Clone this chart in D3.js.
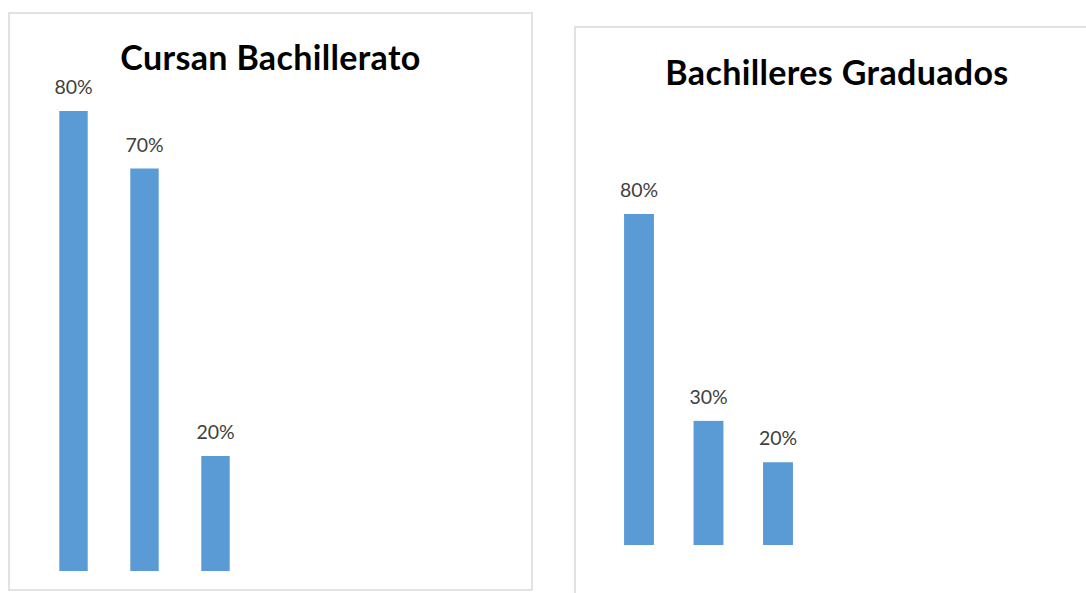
<!DOCTYPE html>
<html>
<head>
<meta charset="utf-8">
<script src="https://cdn.jsdelivr.net/npm/d3@7"></script>
<style>
  html, body { margin: 0; padding: 0; background: #ffffff; }
  svg { display: block; }
</style>
</head>
<body>
<svg id="chart" width="1086" height="593"></svg>
<script>
// Chart data
const categories = ["Grupo 1", "Grupo 2", "Grupo 3"];
const cursanValues = [80, 70, 20];
const graduadosValues = [80, 30, 20];
const titles = ["Cursan Bachillerato", "Bachilleres Graduados"];

const svg = d3.select("#chart");
const barColor = "#5b9bd5";
const labelColor = "#404040";
const fontFamily = "Lato, 'Open Sans', sans-serif";

// Panel layouts: frame box, title placement, category range, value range
const panels = [
  {
    title: titles[0], values: cursanValues,
    frame: { x: 9, y: 13, w: 523, h: 577 },
    titleX: 270.5, titleY: 70, titleWidth: 300,
    xRange: [38, 251], padInner: 0.6, padOuter: 0.3,
    yRange: [571, 111]
  },
  {
    title: titles[1], values: graduadosValues,
    frame: { x: 575, y: 27, w: 524, h: 580 },
    titleX: 837, titleY: 85, titleWidth: 343,
    xRange: [604.25, 812.75], padInner: 0.57, padOuter: 0.285,
    yRange: [545, 214]
  }
];

panels.forEach(p => {
  const g = svg.append("g");

  // chart frame
  g.append("rect")
    .attr("x", p.frame.x).attr("y", p.frame.y)
    .attr("width", p.frame.w).attr("height", p.frame.h)
    .attr("fill", "#ffffff")
    .attr("stroke", "#d9d9d9")
    .attr("stroke-width", 1.5);

  const x = d3.scaleBand()
    .domain(categories)
    .range(p.xRange)
    .paddingInner(p.padInner)
    .paddingOuter(p.padOuter);

  const y = d3.scaleLinear()
    .domain([0, 80])
    .range(p.yRange);

  const rows = categories.map((c, i) => ({ cat: c, value: p.values[i] }));

  g.selectAll("rect.bar")
    .data(rows)
    .join("rect")
    .attr("class", "bar")
    .attr("x", d => x(d.cat))
    .attr("y", d => y(d.value))
    .attr("width", x.bandwidth())
    .attr("height", d => y(0) - y(d.value))
    .attr("fill", barColor);

  g.selectAll("text.label")
    .data(rows)
    .join("text")
    .attr("class", "label")
    .attr("x", d => x(d.cat) + x.bandwidth() / 2)
    .attr("y", d => y(d.value) - 17)
    .attr("text-anchor", "middle")
    .attr("font-family", fontFamily)
    .attr("font-size", 19.5)
    .attr("fill", labelColor)
    .text(d => d.value + "%");

  const t = g.append("text")
    .attr("x", p.titleX)
    .attr("y", p.titleY)
    .attr("text-anchor", "middle")
    .attr("font-family", fontFamily)
    .attr("font-weight", "bold")
    .attr("font-size", 34)
    .attr("fill", "#000000")
    .text(p.title);

  // spread the title letters to the chart's title width
  const measured = t.node().getComputedTextLength();
  const n = p.title.length;
  if (measured < p.titleWidth && n > 1) {
    t.attr("letter-spacing", (p.titleWidth - measured) / (n - 1));
  }
});
</script>
</body>
</html>
